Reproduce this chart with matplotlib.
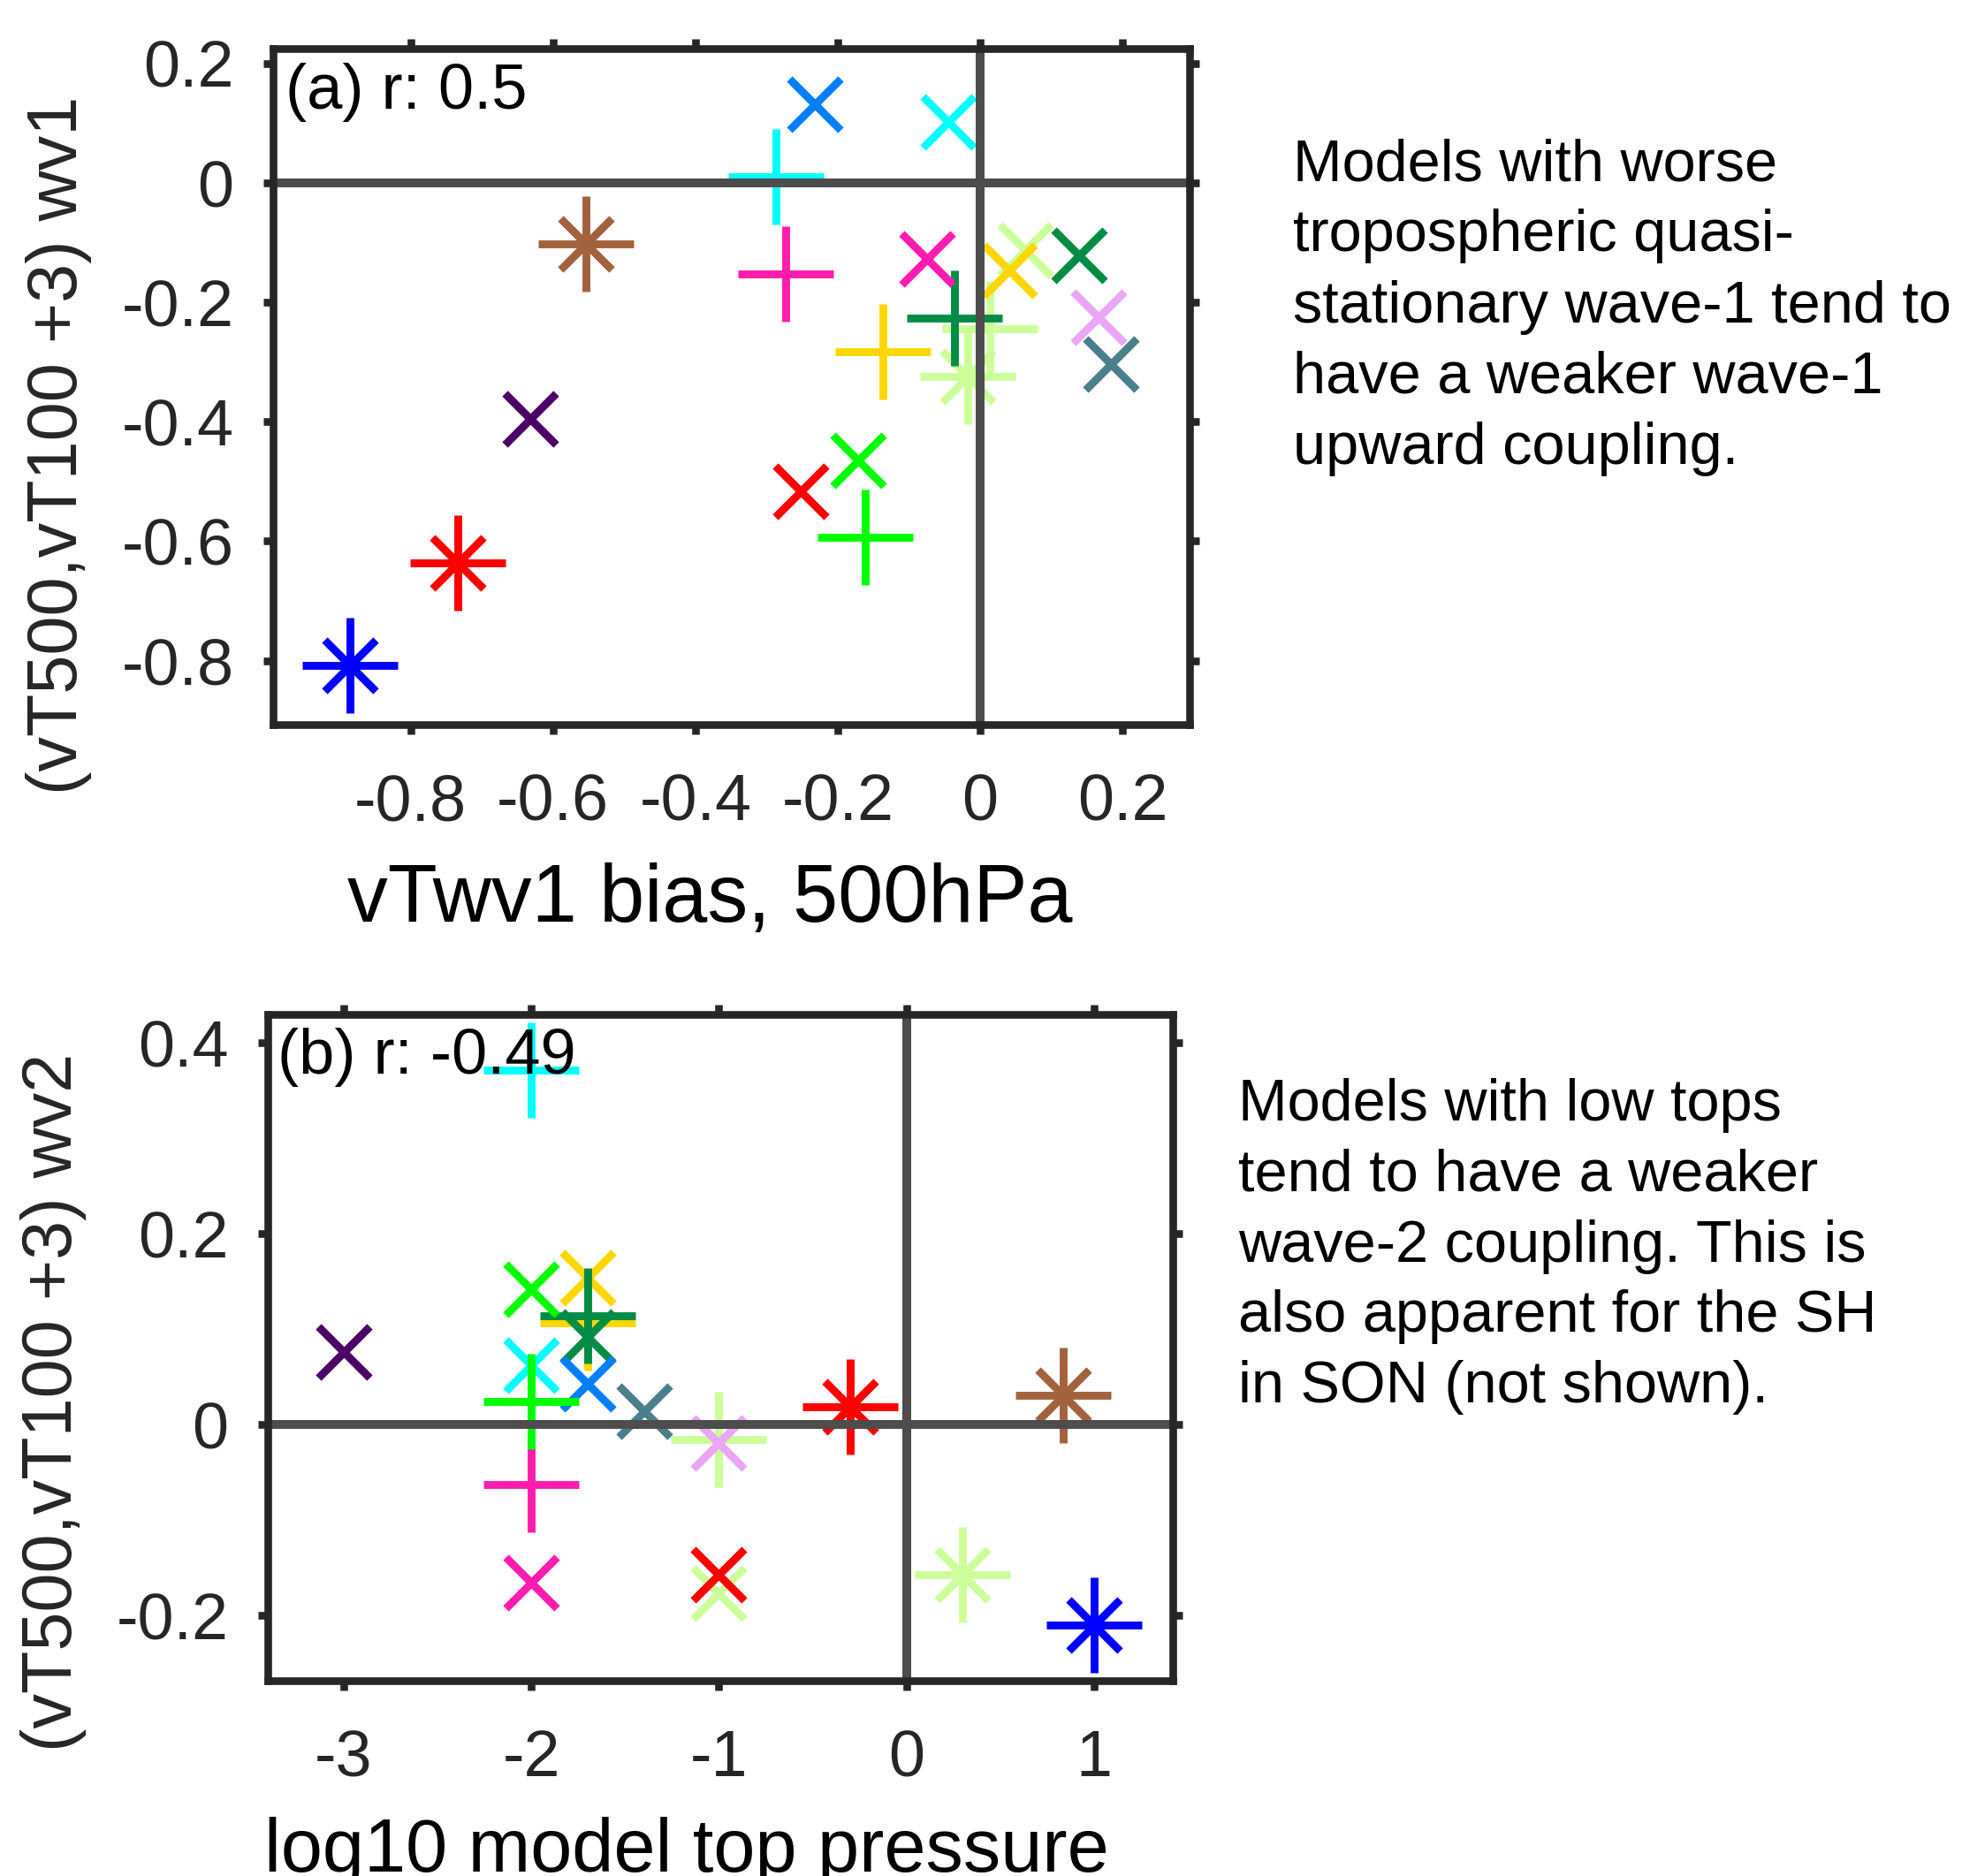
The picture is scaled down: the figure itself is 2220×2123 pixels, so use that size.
import matplotlib
matplotlib.use('Agg')
import matplotlib.pyplot as plt

plt.rcParams['font.family'] = ['Liberation Sans', 'DejaVu Sans']
plt.rcParams['axes.unicode_minus'] = False

# model styles (colour, marker); '*' = MATLAB-like asterisk (+ and x)
colors = ['#CCFF99', '#CCFF99', '#CCFF99', '#FFD700', '#FFD700', '#008C45', '#008C45',
          '#EBA6F7', '#4A7F8C', '#0000FF', '#FF0000', '#A2623E', '#4C0066', '#0080FF',
          '#00FFFF', '#FF1CAE', '#00FF00', '#FF0000', '#00FFFF', '#FF1CAE', '#00FF00']
markers = ['*', '+', 'x', '+', 'x', 'x', '+',
           'x', 'x', '*', '*', '*', 'x', 'x',
           'x', 'x', 'x', 'x', '+', '+', '+']

# panel (a): vTwv1 bias vs wave-1 coupling
a_x = [-0.017, 0.013, 0.063, -0.137, 0.041, 0.139, -0.036,
       0.166, 0.184, -0.885, -0.734, -0.554, -0.632, -0.232,
       -0.045, -0.075, -0.171, -0.252, -0.287, -0.273, -0.161]
a_y = [-0.324, -0.244, -0.113, -0.283, -0.147, -0.121, -0.226,
       -0.225, -0.304, -0.808, -0.637, -0.102, -0.395, 0.132,
       0.102, -0.127, -0.464, -0.517, 0.010, -0.152, -0.594]

# panel (b): log10 model top pressure vs wave-2 coupling
b_x = [0.30, -1.0, -1.0, -1.70, -1.70, -1.70, -1.70,
       -1.0, -1.40, 1.0, -0.30, 0.834, -3.0, -1.70,
       -2.0, -2.0, -2.0, -1.0, -2.0, -2.0, -2.0]
b_y = [-0.157, -0.016, -0.177, 0.107, 0.154, 0.092, 0.114,
       -0.019, 0.014, -0.210, 0.019, 0.031, 0.076, 0.043,
       0.062, -0.166, 0.142, -0.157, 0.372, -0.063, 0.024]

a_xticks = [-0.8, -0.6, -0.4, -0.2, 0, 0.2]
a_xticklabels = ['-0.8', '-0.6', '-0.4', '-0.2', '0', '0.2']
a_yticks = [0.2, 0, -0.2, -0.4, -0.6, -0.8]
a_yticklabels = ['0.2', '0', '-0.2', '-0.4', '-0.6', '-0.8']
b_xticks = [-3, -2, -1, 0, 1]
b_xticklabels = ['-3', '-2', '-1', '0', '1']
b_yticks = [0.4, 0.2, 0, -0.2]
b_yticklabels = ['0.4', '0.2', '0', '-0.2']

text_a = ('Models with worse\ntropospheric quasi-\nstationary wave-1 tend to\n'
          'have a weaker wave-1\nupward coupling.')
text_b = ('Models with low tops\ntend to have a weaker\nwave-2 coupling. This is\n'
          'also apparent for the SH\nin SON (not shown).')

dark = '#262626'
ref = '#4D4D4D'
MS_PLUS = 39
MS_X = 21
MEW = 3.2

fig = plt.figure(figsize=(11.1, 10.615), dpi=200)
ax1 = fig.add_axes([0.1392, 0.6138, 0.4671, 0.3603])
ax2 = fig.add_axes([0.1365, 0.1041, 0.4613, 0.3552])


def draw(ax, xs, ys):
    for x, y, c, m in zip(xs, ys, colors, markers):
        if m == '*':
            ax.plot(x, y, marker='+', ms=MS_PLUS, mew=MEW, color=c, ls='none')
            ax.plot(x, y, marker='x', ms=MS_X, mew=MEW, color=c, ls='none')
        elif m == '+':
            ax.plot(x, y, marker='+', ms=MS_PLUS, mew=MEW, color=c, ls='none')
        else:
            ax.plot(x, y, marker='x', ms=MS_X, mew=MEW, color=c, ls='none')
    ax.axhline(0, color=ref, lw=3.6, zorder=5)
    ax.axvline(0, color=ref, lw=3.6, zorder=5)
    for s in ax.spines.values():
        s.set_linewidth(3.1)
        s.set_color(dark)
        s.set_zorder(6)
    ax.tick_params(which='both', direction='out', top=True, right=True,
                   length=4, width=3.1, color=dark, labelcolor=dark,
                   labelsize=26.5)
    ax.tick_params(axis='x', pad=15.5)
    ax.tick_params(axis='y', pad=12)


draw(ax1, a_x, a_y)
ax1.set_xlim(-0.993, 0.294)
ax1.set_ylim(-0.907, 0.225)
ax1.set_xticks(a_xticks)
ax1.set_xticklabels(a_xticklabels)
ax1.set_yticks(a_yticks)
ax1.set_yticklabels(a_yticklabels)
ax1.set_xlabel('vTwv1 bias, 500hPa', fontsize=33, labelpad=12)
ax1.set_ylabel('(vT500,vT100 +3) wv1', fontsize=28.5, labelpad=12, color=dark)
ax1.xaxis.label.set_x(0.477)
ax1.yaxis.label.set_y(0.4126)
ax1.text(0.0135, 0.9106, '(a) r: 0.5', transform=ax1.transAxes, fontsize=26,
         va='baseline', ha='left', zorder=10)

draw(ax2, b_x, b_y)
ax2.set_xlim(-3.405, 1.42)
ax2.set_ylim(-0.2685, 0.43)
ax2.set_xticks(b_xticks)
ax2.set_xticklabels(b_xticklabels)
ax2.set_yticks(b_yticks)
ax2.set_yticklabels(b_yticklabels)
ax2.set_xlabel('log10 model top pressure', fontsize=30.5, labelpad=11)
ax2.set_ylabel('(vT500,vT100 +3) wv2', fontsize=28.5, labelpad=12, color=dark)
ax2.xaxis.label.set_x(0.463)
ax2.yaxis.label.set_y(0.418)
ax2.text(0.011, 0.9107, '(b) r: -0.49', transform=ax2.transAxes, fontsize=26,
         va='baseline', ha='left', zorder=10)

fig.text(0.659, 0.9265, text_a, fontsize=24, va='top', ha='left', linespacing=1.38)
fig.text(0.6312, 0.4253, text_b, fontsize=24, va='top', ha='left', linespacing=1.37)

fig.savefig('out.png', dpi=200)
